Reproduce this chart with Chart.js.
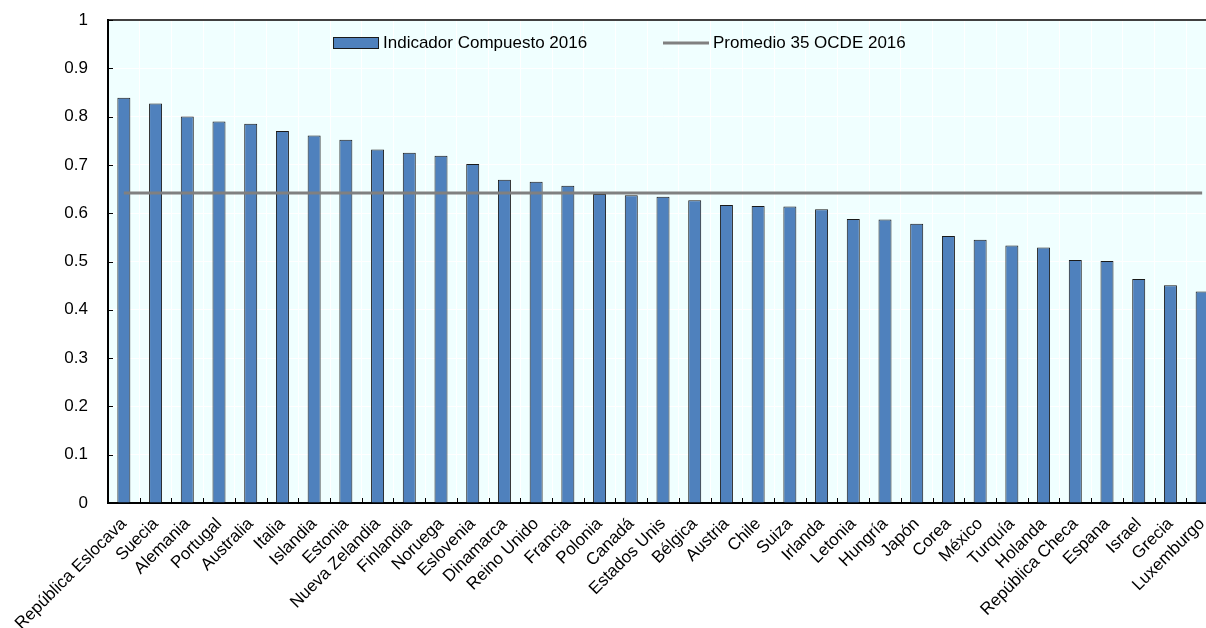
<!doctype html>
<html>
<head>
<meta charset="utf-8">
<title>Indicador Compuesto 2016</title>
<script src="https://cdn.jsdelivr.net/npm/chart.js@4"></script>
<style>
  html, body { margin: 0; padding: 0; background: #fff; overflow: hidden; }
  #wrap { width: 1218px; height: 628px; }
</style>
</head>
<body>
<div id="wrap"><canvas id="chart" width="1218" height="628"></canvas></div>
<script>
// paises ordenados de mayor a menor
const countries = [
  'República Eslocava', 'Suecia', 'Alemania', 'Portugal', 'Australia', 'Italia', 'Islandia',
  'Estonia', 'Nueva Zelandia', 'Finlandia', 'Noruega', 'Eslovenia', 'Dinamarca', 'Reino Unido',
  'Francia', 'Polonia', 'Canadá', 'Estados Unis', 'Bélgica', 'Austria', 'Chile', 'Suiza',
  'Irlanda', 'Letonia', 'Hungría', 'Japón', 'Corea', 'México', 'Turquía', 'Holanda',
  'República Checa', 'Espana', 'Israel', 'Grecia', 'Luxemburgo'
];
const indicador2016 = [
  0.839, 0.827, 0.800, 0.790, 0.785, 0.770, 0.761,
  0.752, 0.732, 0.725, 0.719, 0.702, 0.669, 0.665,
  0.657, 0.640, 0.637, 0.634, 0.627, 0.617, 0.615, 0.614,
  0.608, 0.588, 0.587, 0.578, 0.553, 0.545, 0.533, 0.529,
  0.503, 0.501, 0.464, 0.451, 0.438
];
const promedioOCDE = 0.642;
const yTicks = [0, 0.1, 0.2, 0.3, 0.4, 0.5, 0.6, 0.7, 0.8, 0.9, 1];

const FONT = '"Liberation Sans", Arial, sans-serif';
const BAR_BLUE = '#4f81bd';
const LINE_GREY = '#808080';

// fondo del area de grafico, ticks interiores, borde superior y leyenda
const decor = {
  id: 'decor',
  beforeDraw(chart) {
    const { ctx, chartArea: a } = chart;
    ctx.save();
    ctx.fillStyle = '#f0ffff';
    ctx.fillRect(a.left, a.top, a.right - a.left, a.bottom - a.top);
    ctx.restore();
  },
  afterDraw(chart) {
    const { ctx, chartArea: a, scales } = chart;
    ctx.save();
    ctx.strokeStyle = '#000';
    ctx.lineWidth = 1;
    // ticks del eje x, entre categorias, hacia dentro
    const xs = scales.x;
    for (let i = 1; i < countries.length; i++) {
      const px = Math.round((xs.getPixelForValue(i - 1) + xs.getPixelForValue(i)) / 2) + 0.5;
      ctx.beginPath();
      ctx.moveTo(px, a.bottom);
      ctx.lineTo(px, a.bottom - 5);
      ctx.stroke();
    }
    // ticks del eje y hacia dentro
    yTicks.forEach(v => {
      const py = Math.round(scales.y.getPixelForValue(v)) + 0.5;
      ctx.beginPath();
      ctx.moveTo(a.left, py);
      ctx.lineTo(a.left + 5, py);
      ctx.stroke();
    });
    // borde superior
    ctx.lineWidth = 1.5;
    ctx.beginPath();
    ctx.moveTo(a.left, a.top);
    ctx.lineTo(a.right, a.top);
    ctx.stroke();

    // leyenda
    const ds = chart.data.datasets;
    ctx.font = '17px ' + FONT;
    ctx.textBaseline = 'middle';
    const ly = 43;
    ctx.fillStyle = ds[1].backgroundColor;
    ctx.fillRect(333.5, 37.5, 45, 11);
    ctx.strokeStyle = '#1a1a1a';
    ctx.lineWidth = 1;
    ctx.strokeRect(333.5, 37.5, 45, 11);
    ctx.fillStyle = '#000';
    ctx.fillText(ds[1].label, 383, ly);
    ctx.strokeStyle = ds[0].borderColor;
    ctx.lineWidth = 3;
    ctx.beginPath();
    ctx.moveTo(663, ly);
    ctx.lineTo(709, ly);
    ctx.stroke();
    ctx.fillText(ds[0].label, 713, ly);
    ctx.restore();
  }
};

new Chart(document.getElementById('chart'), {
  data: {
    labels: countries,
    datasets: [
      {
        type: 'line',
        label: 'Promedio 35 OCDE 2016',
        data: countries.map(() => promedioOCDE),
        borderColor: LINE_GREY,
        borderWidth: 3,
        pointRadius: 0,
        order: 0
      },
      {
        type: 'bar',
        label: 'Indicador Compuesto 2016',
        data: indicador2016,
        backgroundColor: BAR_BLUE,
        borderColor: '#1a1a1a',
        borderWidth: 1,
        barPercentage: 0.41,
        categoryPercentage: 1,
        order: 1
      }
    ]
  },
  options: {
    responsive: false,
    animation: false,
    layout: { padding: { top: 20, right: 0, bottom: 0, left: 0 } },
    plugins: { legend: { display: false }, tooltip: { enabled: false } },
    scales: {
      x: {
        grid: { color: '#ffffff', lineWidth: 1, drawTicks: false, offset: true },
        border: { color: '#000', width: 2 },
        ticks: {
          autoSkip: false,
          minRotation: 45,
          maxRotation: 45,
          padding: 11,
          color: '#000',
          font: { family: FONT, size: 17 }
        },
        afterFit(scale) {
          scale.height = 125;
          scale.paddingLeft = 0;
          scale.paddingRight = 0;
        }
      },
      y: {
        min: 0,
        max: 1,
        grid: { color: '#ffffff', lineWidth: 1, drawTicks: false },
        border: { color: '#000', width: 2 },
        ticks: {
          stepSize: 0.1,
          padding: 20,
          color: '#000',
          font: { family: FONT, size: 17 },
          callback: v => String(Math.round(v * 10) / 10)
        },
        afterFit(scale) {
          scale.width = 108;
          scale.paddingTop = 0;
          scale.paddingBottom = 0;
        }
      }
    }
  },
  plugins: [decor]
});
</script>
</body>
</html>
